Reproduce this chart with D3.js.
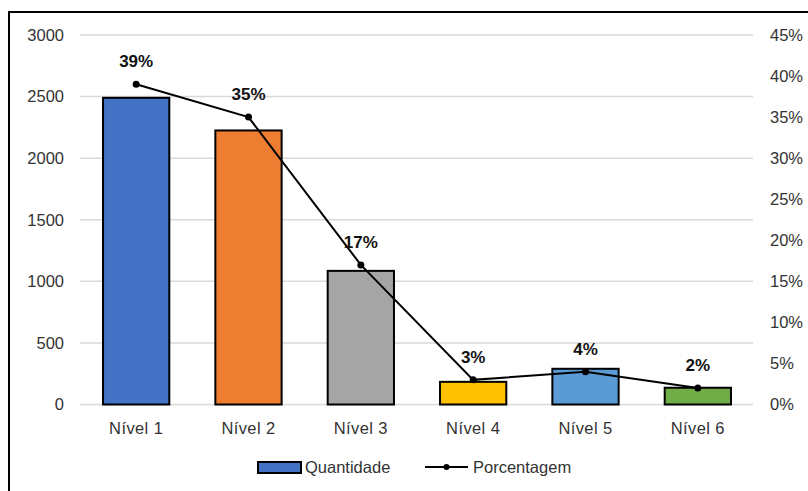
<!DOCTYPE html>
<html>
<head>
<meta charset="utf-8">
<script src="https://cdn.jsdelivr.net/npm/d3@7/dist/d3.min.js"></script>
<style>
  html, body { margin: 0; padding: 0; background: #fff; }
  svg { display: block; font-family: "Liberation Sans", Arial, sans-serif; }
</style>
</head>
<body>
<svg id="chart" width="808" height="491"></svg>
<script>
// Levels and their counts (bars, left axis) and share (line, right axis)
const categories = ["Nível 1", "Nível 2", "Nível 3", "Nível 4", "Nível 5", "Nível 6"];
const quantidade = [2490, 2225, 1085, 184, 290, 136];
const porcentagem = [0.39, 0.35, 0.17, 0.03, 0.04, 0.02];
const barColors = ["#4472C4", "#ED7D31", "#A5A5A5", "#FFC000", "#5B9BD5", "#70AD47"];
const leftTicks = [0, 500, 1000, 1500, 2000, 2500, 3000];
const rightTicks = [0, 0.05, 0.10, 0.15, 0.20, 0.25, 0.30, 0.35, 0.40, 0.45];

const FONT = "'Liberation Sans', Arial, sans-serif";
const svg = d3.select("#chart");
const W = 808, H = 491;
const plot = { left: 80, right: 754, top: 35, bottom: 404.5 };

// Outer frame
svg.append("rect")
  .attr("x", 9).attr("y", 12)
  .attr("width", W + 20).attr("height", H + 20)
  .attr("fill", "#fff").attr("stroke", "#000").attr("stroke-width", 2);

const x = d3.scaleBand()
  .domain(categories)
  .range([plot.left, plot.right])
  .paddingInner(0.41)
  .paddingOuter(0.205);

const yL = d3.scaleLinear().domain([0, 3000]).range([plot.bottom, plot.top]);
const yR = d3.scaleLinear().domain([0, 0.45]).range([plot.bottom, plot.top]);

// Horizontal gridlines
svg.append("g").selectAll("line")
  .data(leftTicks)
  .join("line")
  .attr("x1", plot.left).attr("x2", plot.right - 1)
  .attr("y1", d => yL(d)).attr("y2", d => yL(d))
  .attr("stroke", "#d9d9d9").attr("stroke-width", 1.5);

// Left axis
const gL = svg.append("g")
  .attr("transform", `translate(${plot.left},0)`)
  .call(d3.axisLeft(yL).tickValues(leftTicks).tickSize(0).tickPadding(16).tickFormat(d3.format("d")));
gL.select(".domain").remove();
gL.selectAll("text")
  .attr("fill", "#333").style("font-size", "16.5px").style("font-family", FONT);

// Right axis
const gR = svg.append("g")
  .attr("transform", `translate(${plot.right - 1},0)`)
  .call(d3.axisRight(yR).tickValues(rightTicks).tickSize(0).tickPadding(17).tickFormat(d3.format(".0%")));
gR.select(".domain").remove();
gR.selectAll("text")
  .attr("fill", "#333").style("font-size", "16.5px").style("font-family", FONT);

// Bars
svg.append("g").selectAll("rect")
  .data(categories)
  .join("rect")
  .attr("x", d => x(d))
  .attr("width", x.bandwidth())
  .attr("y", (d, i) => yL(quantidade[i]))
  .attr("height", (d, i) => yL(0) - yL(quantidade[i]))
  .attr("fill", (d, i) => barColors[i])
  .attr("stroke", "#000").attr("stroke-width", 2);

// Category axis
const gX = svg.append("g")
  .attr("transform", `translate(0,${plot.bottom})`)
  .call(d3.axisBottom(x).tickSize(0).tickPadding(17.5));
gX.select(".domain").remove();
gX.selectAll("text")
  .attr("fill", "#333").style("font-size", "16.5px").style("letter-spacing", "0.4px")
  .style("font-family", FONT);

// Percentage line
const cx = d => x(d) + x.bandwidth() / 2;
const line = d3.line()
  .x((d, i) => cx(categories[i]))
  .y(d => yR(d));
svg.append("path")
  .datum(porcentagem)
  .attr("d", line)
  .attr("fill", "none").attr("stroke", "#000").attr("stroke-width", 2);

svg.append("g").selectAll("circle")
  .data(porcentagem)
  .join("circle")
  .attr("cx", (d, i) => cx(categories[i]))
  .attr("cy", d => yR(d))
  .attr("r", 3.5)
  .attr("fill", "#000");

// Percentage labels
svg.append("g").selectAll("text")
  .data(porcentagem)
  .join("text")
  .attr("x", (d, i) => cx(categories[i]))
  .attr("y", d => yR(d) - 17)
  .attr("text-anchor", "middle")
  .style("font-size", "17px").style("font-weight", "bold").style("font-family", FONT)
  .attr("fill", "#111")
  .text(d => d3.format(".0%")(d));

// Legend
const lg = svg.append("g").style("font-family", FONT);
lg.append("rect")
  .attr("x", 258).attr("y", 462).attr("width", 43).attr("height", 11)
  .attr("fill", barColors[0]).attr("stroke", "#000").attr("stroke-width", 2);
lg.append("text")
  .attr("x", 305).attr("y", 473)
  .attr("fill", "#333").style("font-size", "16.5px")
  .text("Quantidade");
lg.append("line")
  .attr("x1", 425).attr("x2", 468).attr("y1", 467).attr("y2", 467)
  .attr("stroke", "#000").attr("stroke-width", 2);
lg.append("circle")
  .attr("cx", 446.5).attr("cy", 467).attr("r", 3).attr("fill", "#000");
lg.append("text")
  .attr("x", 473).attr("y", 473)
  .attr("fill", "#333").style("font-size", "16.5px")
  .text("Porcentagem");
</script>
</body>
</html>
